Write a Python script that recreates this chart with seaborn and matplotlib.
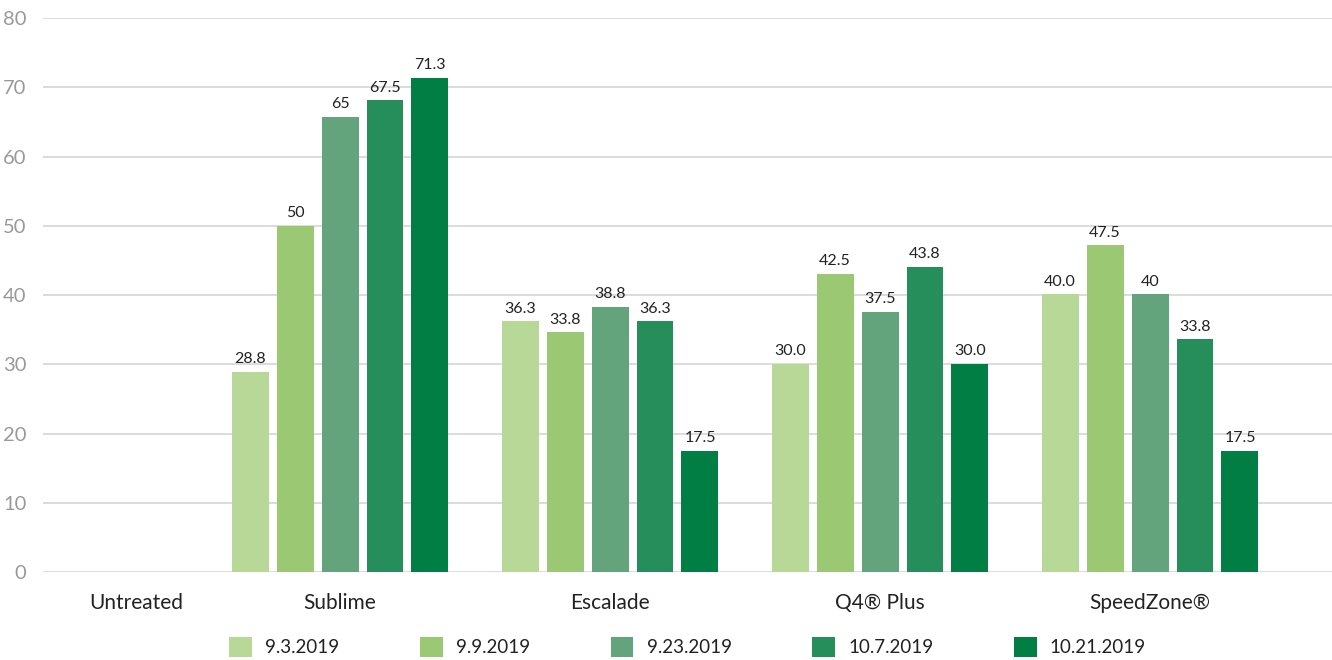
import pandas as pd
import numpy as np
import matplotlib
matplotlib.use("Agg")
import matplotlib.pyplot as plt
import seaborn as sns

# データ
products = ["Untreated", "Sublime", "Escalade", "Q4® Plus", "SpeedZone®"]
dates = ["9.3.2019", "9.9.2019", "9.23.2019", "10.7.2019", "10.21.2019"]
colors = ["#b8d898", "#9bc873", "#63a47d", "#258e5b", "#007e43"]

# bar heights, one list per treated product
sublime = [28.9, 50.0, 65.7, 68.1, 71.4]
escalade = [36.2, 34.6, 38.3, 36.2, 17.5]
q4_plus = [30.1, 43.1, 37.6, 44.1, 30.1]
speedzone = [40.1, 47.2, 40.1, 33.6, 17.5]

# printed labels (formatting as in the original)
sublime_lbl = ["28.8", "50", "65", "67.5", "71.3"]
escalade_lbl = ["36.3", "33.8", "38.8", "36.3", "17.5"]
q4_plus_lbl = ["30.0", "42.5", "37.5", "43.8", "30.0"]
speedzone_lbl = ["40.0", "47.5", "40", "33.8", "17.5"]

rows = []
for prod, vals in zip(products[1:], [sublime, escalade, q4_plus, speedzone]):
    for d, v in zip(dates, vals):
        rows.append({"product": prod, "date": d, "value": v})
df = pd.DataFrame(rows)

labels_by_date = list(zip(sublime_lbl, escalade_lbl, q4_plus_lbl, speedzone_lbl))

plt.rcParams["font.family"] = ["Lato", "DejaVu Sans"]

fig = plt.figure(figsize=(13.32, 6.6), dpi=100)
ax = fig.add_axes([0.0323, 0.1333, 0.9677, 0.8394])

sns.barplot(
    data=df, x="product", y="value", hue="date",
    order=products, hue_order=dates, palette=colors,
    width=0.833, gap=0.178, errorbar=None, saturation=1,
    linewidth=0, ax=ax,
)

for cont, lbls in zip(ax.containers, labels_by_date):
    ax.bar_label(cont, labels=list(lbls), padding=4, fontsize=11.5, color="#222222")

ax.set_ylim(0, 80)
ax.set_yticks(np.arange(0, 81, 10))
ax.set_xlim(-0.1, 4.674)
ax.set_xticks([0.244, 1, 2, 3, 4])
ax.set_xticklabels(products)
ax.grid(axis="y", color="#d9d9d9", linewidth=1.3)
ax.set_axisbelow(True)
for s in ax.spines.values():
    s.set_visible(False)
ax.tick_params(axis="y", length=0, labelsize=14.5, labelcolor="#999999", pad=12)
ax.tick_params(axis="x", length=0, labelsize=15, labelcolor="#222222", pad=15)
ax.set_xlabel("")
ax.set_ylabel("")

ax.legend(
    loc="center", bbox_to_anchor=(0.5, -0.135), ncol=5, frameon=False,
    fontsize=13.5, handlelength=1.22, handleheight=1.22, handletextpad=0.7,
    columnspacing=4.3,
)
for t in ax.get_legend().get_texts():
    t.set_color("#222222")

fig.savefig("out.png", dpi=100)
